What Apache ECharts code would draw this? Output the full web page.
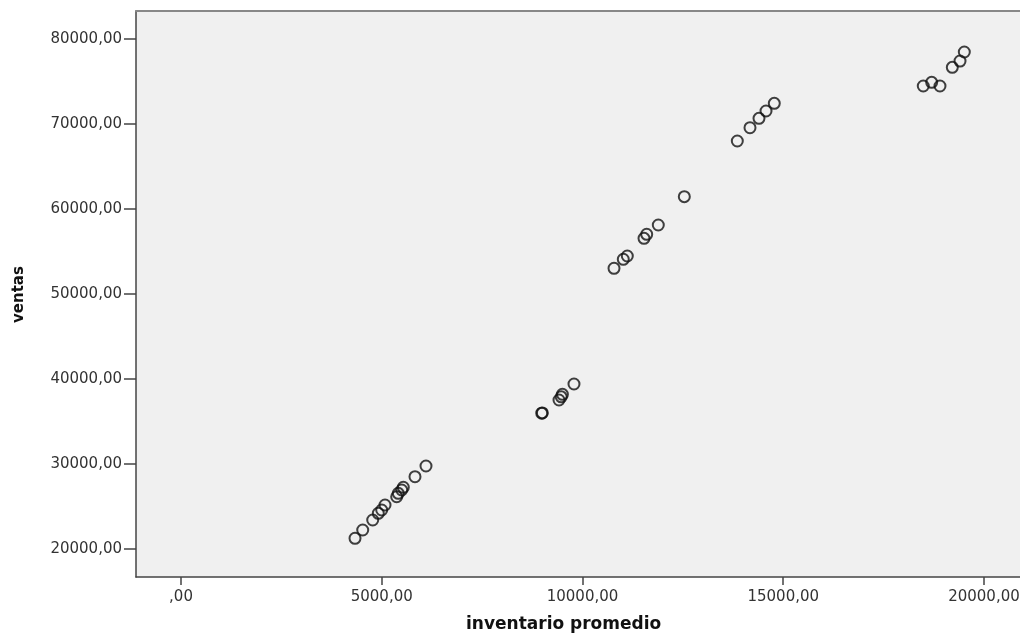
<!DOCTYPE html>
<html>
<head>
<meta charset="utf-8">
<script src="https://cdn.jsdelivr.net/npm/echarts@6/dist/echarts.min.js"></script>
<style>
  html, body { margin: 0; padding: 0; background: #ffffff; }
  #chart { width: 1020px; height: 636px; }
</style>
</head>
<body>
<div id="chart"></div>
<script>
// inventario promedio (x) and ventas (y)
const inventario = [
  4334, 4526, 4775, 4914, 4999, 5081, 5372, 5412, 5497, 5537, 5828, 6102,
  8985, 9000, 9415, 9470, 9500, 9788,
  10785, 11016, 11116, 11532, 11599, 11888, 12536,
  13856, 14172, 14396, 14571, 14777,
  18488, 18697, 18904, 19211, 19403, 19510
];
const ventas = [
  21260, 22235, 23410, 24200, 24590, 25175, 26150, 26550, 26940, 27260, 28505, 29765,
  35980, 36010, 37530, 37900, 38200, 39410,
  53025, 54085, 54470, 56550, 57025, 58120, 61450,
  68000, 69565, 70670, 71530, 72435,
  74470, 74905, 74470, 76670, 77410, 78470
];
const xTicks = [0, 5000, 10000, 15000, 20000];
const yTicks = [20000, 30000, 40000, 50000, 60000, 70000, 80000];
const xTitle = 'inventario promedio';
const yTitle = 'ventas';

const points = inventario.map((x, i) => [x, ventas[i]]);
const fmt = v => (v === 0 ? '' : String(v)) + ',00';

const X_MIN = -1121, X_MAX = 20897;

const chart = echarts.init(document.getElementById('chart'), null, { renderer: 'canvas' });
chart.setOption({
  animation: false,
  backgroundColor: '#ffffff',
  grid: {
    left: 136, top: 11, bottom: 59, right: 0,
    outerBoundsMode: 'none',
    containLabel: false,
    show: true,
    backgroundColor: '#f0f0f0',
    borderWidth: 0
  },
  xAxis: [{
    type: 'value',
    min: X_MIN, max: X_MAX,
    splitLine: { show: false },
    axisLine: { show: true, onZero: false, lineStyle: { color: '#444444', width: 1.5 } },
    axisTick: { show: true, length: 8, customValues: xTicks, lineStyle: { color: '#444444', width: 1.5 } },
    axisLabel: {
      customValues: xTicks, formatter: fmt, margin: 13,
      fontFamily: 'DejaVu Sans', fontSize: 15, color: '#333333'
    }
  }, {
    type: 'value', position: 'top',
    min: X_MIN, max: X_MAX,
    splitLine: { show: false },
    axisLine: { show: true, onZero: false, lineStyle: { color: '#888888', width: 2 } },
    axisTick: { show: false },
    axisLabel: { show: false }
  }],
  yAxis: {
    type: 'value',
    min: 16706, max: 83297,
    splitLine: { show: false },
    axisLine: { show: true, onZero: false, lineStyle: { color: '#444444', width: 1.5 } },
    axisTick: { show: true, length: 12, customValues: yTicks, lineStyle: { color: '#444444', width: 1.5 } },
    axisLabel: {
      customValues: yTicks, formatter: fmt, margin: 14,
      fontFamily: 'DejaVu Sans', fontSize: 15, color: '#333333'
    }
  },
  graphic: [
    {
      type: 'text', left: 466, top: 616,
      style: { text: xTitle, font: 'bold 17px "DejaVu Sans"', fill: '#111111' }
    },
    {
      type: 'text', x: 12, y: 323, rotation: Math.PI / 2,
      style: { text: yTitle, font: 'bold 15px "DejaVu Sans"', fill: '#111111' }
    }
  ],
  series: [{
    type: 'scatter',
    xAxisIndex: 0,
    data: points,
    symbol: 'circle',
    symbolSize: 11,
    itemStyle: { color: 'rgba(0,0,0,0)', borderColor: '#111111', borderWidth: 2 }
  }]
});
</script>
</body>
</html>
